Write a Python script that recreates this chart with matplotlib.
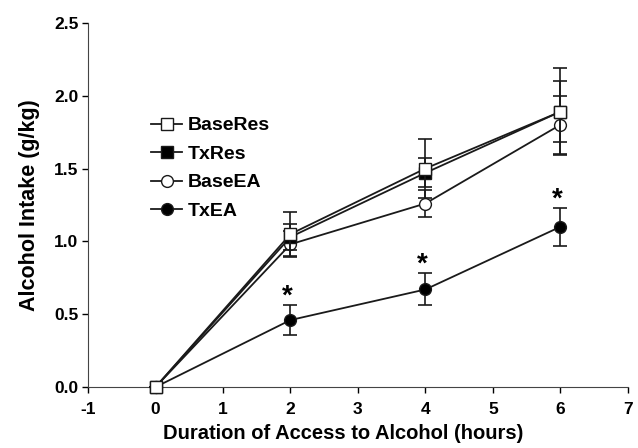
import matplotlib.pyplot as plt

plt.rcParams['font.family'] = ['Liberation Sans', 'DejaVu Sans']
plt.rcParams['font.weight'] = 'bold'
plt.rcParams['axes.unicode_minus'] = False

hours = [0, 2, 4, 6]

base_res = [0, 1.05, 1.50, 1.89]
base_res_err = [0, 0.15, 0.20, 0.30]
tx_res = [0, 1.03, 1.47, 1.89]
tx_res_err = [0, 0.09, 0.10, 0.21]
base_ea = [0, 0.98, 1.26, 1.80]
base_ea_err = [0, 0.09, 0.09, 0.20]
tx_ea = [0, 0.46, 0.67, 1.10]
tx_ea_err = [0, 0.10, 0.11, 0.13]

# asterisks for significant TxEA points
star_x = [2, 4, 6]
star_y = [0.62, 0.84, 1.29]

fig = plt.figure(figsize=(6.38, 4.48), dpi=100)
ax = fig.add_axes([0.138, 0.136, 0.846, 0.813])

series = [
    ('BaseRes', base_res, base_res_err, 's', 'white', 6),
    ('TxRes', tx_res, tx_res_err, 's', 'black', 5),
    ('BaseEA', base_ea, base_ea_err, 'o', 'white', 4),
    ('TxEA', tx_ea, tx_ea_err, 'o', 'black', 3),
]
for name, vals, errs, mk, fc, z in series:
    ax.errorbar(hours, vals, yerr=errs, color='#1a1a1a', marker=mk,
                markerfacecolor=fc, markeredgecolor='#1a1a1a', markersize=8.5,
                linewidth=1.3, elinewidth=1.2, capsize=5, capthick=1.2,
                label=name, clip_on=False, zorder=z)

for sx, sy in zip(star_x, star_y):
    ax.text(sx - 0.05, sy, '*', ha='center', va='center', fontsize=20,
            fontweight='bold')

ax.set_xlim(-1, 7)
ax.set_ylim(0, 2.5)
ax.set_xticks(range(-1, 8))
ax.set_yticks([0, 0.5, 1.0, 1.5, 2.0, 2.5])
ax.set_yticklabels(['0.0', '0.5', '1.0', '1.5', '2.0', '2.5'])
ax.tick_params(direction='out', length=4, labelsize=12.5, width=1, pad=3)
ax.tick_params(axis='x', pad=7)
for lbl in ax.get_xticklabels() + ax.get_yticklabels():
    lbl.set_fontweight('bold')

ax.spines['top'].set_visible(False)
ax.spines['right'].set_visible(False)
ax.spines['left'].set_color('#444444')
ax.spines['bottom'].set_color('#444444')

ax.set_xlabel('Duration of Access to Alcohol (hours)', fontsize=14.5,
              fontweight='bold')
ax.xaxis.set_label_coords(0.472, -0.102)
ax.set_ylabel('Alcohol Intake (g/kg)', fontsize=15.5, fontweight='bold',
              labelpad=10)

handles, labels = ax.get_legend_handles_labels()
handles = [h[0] for h in handles]
ax.legend(handles, labels, loc='upper left', bbox_to_anchor=(0.117, 0.742),
          frameon=False, handlelength=1.6, handletextpad=0.3,
          labelspacing=0.56, borderpad=0, borderaxespad=0,
          prop={'weight': 'bold', 'size': 14})

fig.savefig('out.png', dpi=100)
